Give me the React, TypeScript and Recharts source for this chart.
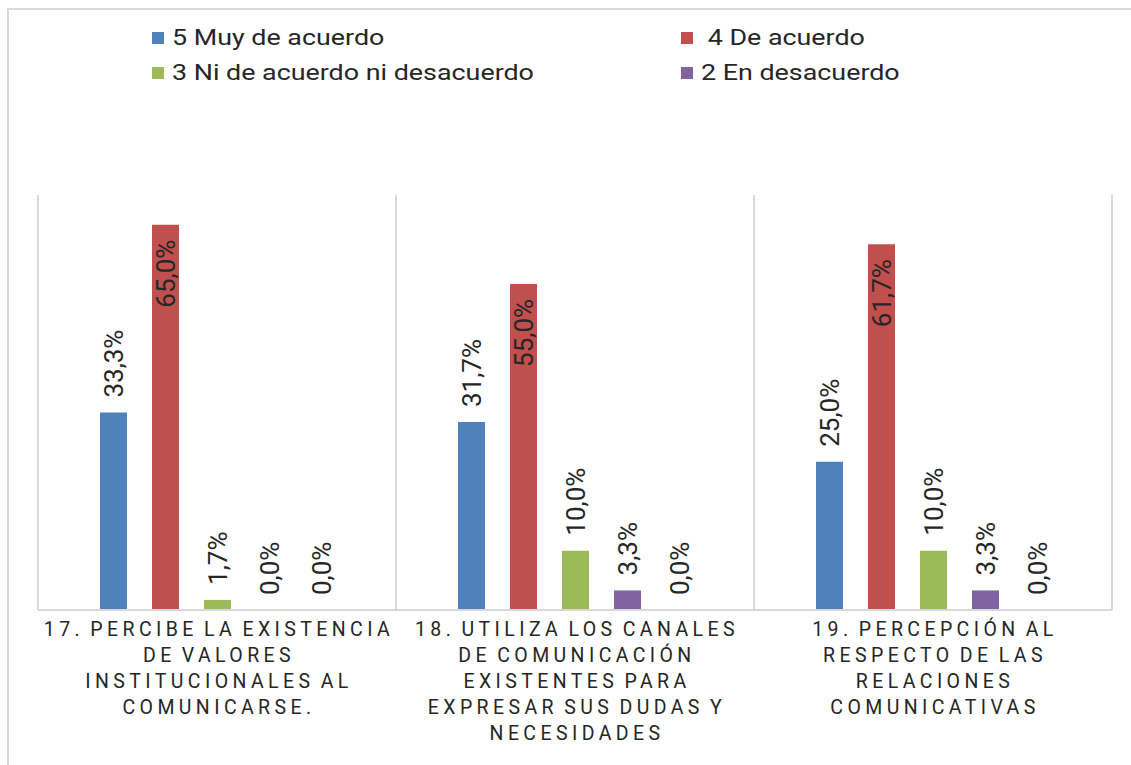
import { BarChart, Bar, XAxis, YAxis, CartesianGrid, LabelList } from "recharts";

// question labels, line breaks as in the original
const categories = [
  "17. PERCIBE LA EXISTENCIA\nDE VALORES\nINSTITUCIONALES AL\nCOMUNICARSE.",
  "18. UTILIZA LOS CANALES\nDE COMUNICACIÓN\nEXISTENTES PARA\nEXPRESAR SUS DUDAS Y\nNECESIDADES",
  "19. PERCEPCIÓN AL\nRESPECTO DE LAS\nRELACIONES\nCOMUNICATIVAS",
];

// percentages per answer
const muyDeAcuerdo = [33.3, 31.7, 25.0];
const deAcuerdo = [65.0, 55.0, 61.7];
const niAcuerdoNiDesacuerdo = [1.7, 10.0, 10.0];
const enDesacuerdo = [0.0, 3.3, 3.3];
const muyEnDesacuerdo = [0.0, 0.0, 0.0];

const seriesNames = [
  "5 Muy de acuerdo",
  " 4 De acuerdo",
  "3 Ni de acuerdo ni desacuerdo",
  "2 En desacuerdo",
  "1 Muy en desacuerdo",
];
const seriesColors = ["#4F81BD", "#C0504D", "#9BBB59", "#8064A2", "#4BACC6"];
const seriesValues = [
  muyDeAcuerdo,
  deAcuerdo,
  niAcuerdoNiDesacuerdo,
  enDesacuerdo,
  muyEnDesacuerdo,
];
const yTicks = [0, 70];

const data = categories.map((name, i) => {
  const row: Record<string, string | number> = { name };
  seriesValues.forEach((vals, s) => {
    row["s" + s] = vals[i];
  });
  return row;
});

const fmt = (v: number) => v.toFixed(1).replace(".", ",") + "%";

// labels rotated -90; the tall red bars carry their label inside the bar
const makeLabel = (inside: boolean) => (p: any) => {
  const bx = p.x + p.width / 2 + 9.5;
  const by = inside ? p.y + 15 : p.y - 15;
  return (
    <text
      x={bx}
      y={by}
      transform={`rotate(-90 ${bx} ${by})`}
      textAnchor={inside ? "end" : "start"}
      fontSize={26}
      fill="#262626"
    >
      {fmt(Number(p.value))}
    </text>
  );
};

const CategoryTick = (p: any) => {
  const lines = String(p.payload.value).split("\n");
  return (
    <text
      x={p.x}
      y={p.y}
      textAnchor="middle"
      fontSize={19.5}
      letterSpacing={4.4}
      wordSpacing={-3}
      fill="#262626"
    >
      {lines.map((l, i) => (
        <tspan key={i} x={p.x + 2} dy={26}>
          {l}
        </tspan>
      ))}
    </text>
  );
};

const legendPos = [
  { left: 152, top: 32 },
  { left: 681, top: 32 },
  { left: 152, top: 67 },
  { left: 681, top: 67 },
];

const App = () => {
  return (
    <div
      style={{
        position: "absolute",
        left: 0,
        top: 0,
        width: 1131,
        height: 765,
        overflow: "hidden",
        background: "#fff",
        fontFamily: "Roboto, sans-serif",
      }}
    >
      <div
        style={{
          position: "absolute",
          left: 7,
          top: 8,
          width: 1200,
          height: 800,
          borderTop: "2px solid #d9d9d9",
          borderLeft: "2px solid #d9d9d9",
        }}
      />
      {legendPos.map((pos, i) => (
        <div
          key={i}
          style={{
            position: "absolute",
            left: pos.left,
            top: pos.top,
            display: "flex",
            alignItems: "center",
            height: 12,
          }}
        >
          <span
            style={{
              width: 12,
              height: 12,
              background: seriesColors[i],
              display: "inline-block",
            }}
          />
          <span
            style={{
              marginLeft: 8,
              fontSize: 22,
              color: "#262626",
              whiteSpace: "pre",
              display: "inline-block",
              transform: "scaleX(1.22)",
              transformOrigin: "left center",
              lineHeight: "12px",
            }}
          >
            {seriesNames[i]}
          </span>
        </div>
      ))}
      <div style={{ position: "absolute", left: 0, top: 0 }}>
        <BarChart
          width={1131}
          height={765}
          data={data}
          margin={{ top: 195, right: 19, bottom: 0, left: 38 }}
          barSize={27}
          barGap={25}
        >
          <CartesianGrid
            horizontal={false}
            stroke="#d9d9d9"
            strokeWidth={2}
            verticalCoordinatesGenerator={({ offset }: any) =>
              categories
                .map((_, i) => offset.left + (i * offset.width) / categories.length)
                .concat(offset.left + offset.width)
            }
          />
          <XAxis
            dataKey="name"
            height={155}
            interval={0}
            tickLine={false}
            tickSize={0}
            tickMargin={0}
            axisLine={{ stroke: "#d9d9d9", strokeWidth: 2 }}
            tick={<CategoryTick />}
          />
          <YAxis hide domain={[yTicks[0], yTicks[1]]} ticks={yTicks} />
          {seriesNames.map((n, s) => (
            <Bar
              key={s}
              dataKey={"s" + s}
              name={n}
              fill={seriesColors[s]}
              minPointSize={0.001}
              isAnimationActive={false}
            >
              <LabelList dataKey={"s" + s} content={makeLabel(s === 1)} />
            </Bar>
          ))}
        </BarChart>
      </div>
    </div>
  );
};

export default App;
